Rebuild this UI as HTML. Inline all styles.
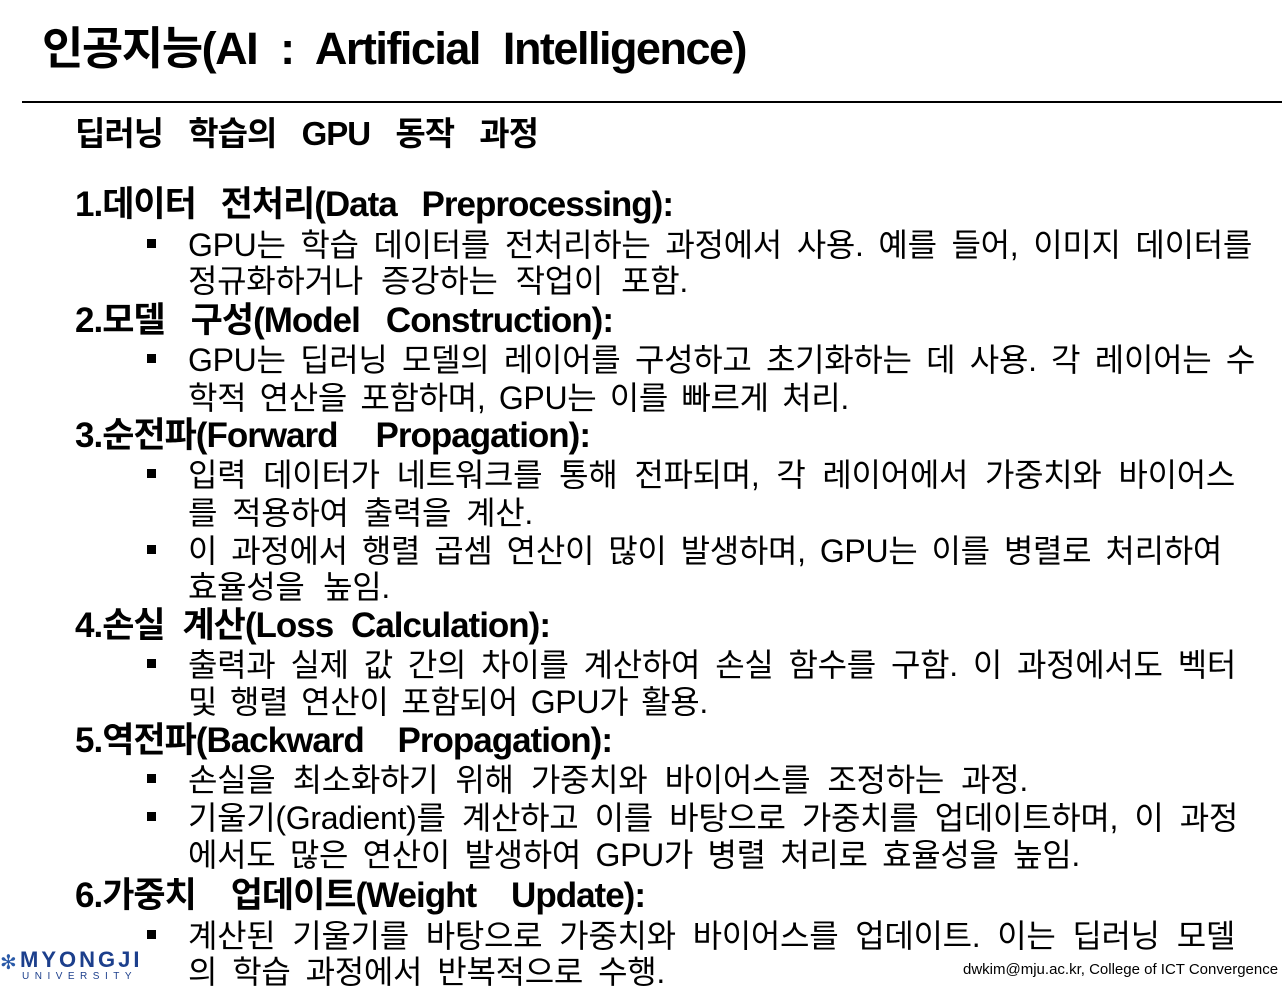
<!DOCTYPE html>
<html><head><meta charset="utf-8"><style>
body{margin:0;width:1282px;height:984px;background:#fff;position:relative;overflow:hidden;font-family:"Liberation Sans","Noto Sans CJK KR",sans-serif;color:#000}
.l{position:absolute;white-space:nowrap;text-align:justify;text-align-last:justify;line-height:36px;height:36px;overflow:visible}
.b{font-size:32px;left:188px;letter-spacing:-0.3px;margin-top:2px}
.h{font-size:35px;font-weight:bold;left:75px;letter-spacing:-1px}
.sq{position:absolute;left:147px;width:9px;height:9px;background:#000}
</style></head><body>
<div class="l" style="left:42px;top:24px;height:50px;line-height:50px;font-size:45px;font-weight:bold;width:704px;letter-spacing:-1.5px">인공지능(AI : Artificial Intelligence)</div>
<div style="position:absolute;left:22px;top:101px;width:1260px;height:2px;background:#000"></div>
<div class="l h" style="top:116px;width:463px;font-size:33px">딥러닝 학습의 GPU 동작 과정</div>

<div class="l h" style="top:187px;width:598px">1.데이터 전처리(Data Preprocessing):</div>
<div class="sq" style="top:239px"></div>
<div class="l b" style="top:225px;width:1064px">GPU는 학습 데이터를 전처리하는 과정에서 사용. 예를 들어, 이미지 데이터를</div>
<div class="l b" style="top:261px;width:500px">정규화하거나 증강하는 작업이 포함.</div>

<div class="l h" style="top:303px;width:538px">2.모델 구성(Model Construction):</div>
<div class="sq" style="top:354px"></div>
<div class="l b" style="top:340px;width:1067px">GPU는 딥러닝 모델의 레이어를 구성하고 초기화하는 데 사용. 각 레이어는 수</div>
<div class="l b" style="top:378px;width:661px">학적 연산을 포함하며, GPU는 이를 빠르게 처리.</div>

<div class="l h" style="top:418px;width:515px">3.순전파(Forward Propagation):</div>
<div class="sq" style="top:469px"></div>
<div class="l b" style="top:455px;width:1047px">입력 데이터가 네트워크를 통해 전파되며, 각 레이어에서 가중치와 바이어스</div>
<div class="l b" style="top:493px;width:345px">를 적용하여 출력을 계산.</div>
<div class="sq" style="top:545px"></div>
<div class="l b" style="top:531px;width:1034px">이 과정에서 행렬 곱셈 연산이 많이 발생하며, GPU는 이를 병렬로 처리하여</div>
<div class="l b" style="top:567px;width:202px">효율성을 높임.</div>

<div class="l h" style="top:608px;width:475px">4.손실 계산(Loss Calculation):</div>
<div class="sq" style="top:659px"></div>
<div class="l b" style="top:645px;width:1048px">출력과 실제 값 간의 차이를 계산하여 손실 함수를 구함. 이 과정에서도 벡터</div>
<div class="l b" style="top:682px;width:520px">및 행렬 연산이 포함되어 GPU가 활용.</div>

<div class="l h" style="top:723px;width:537px">5.역전파(Backward Propagation):</div>
<div class="sq" style="top:774px"></div>
<div class="l b" style="top:760px;width:840px">손실을 최소화하기 위해 가중치와 바이어스를 조정하는 과정.</div>
<div class="sq" style="top:812px"></div>
<div class="l b" style="top:798px;width:1050px">기울기(Gradient)를 계산하고 이를 바탕으로 가중치를 업데이트하며, 이 과정</div>
<div class="l b" style="top:835px;width:892px">에서도 많은 연산이 발생하여 GPU가 병렬 처리로 효율성을 높임.</div>

<div class="l h" style="top:878px;width:570px">6.가중치 업데이트(Weight Update):</div>
<div class="sq" style="top:930px"></div>
<div class="l b" style="top:916px;width:1047px">계산된 기울기를 바탕으로 가중치와 바이어스를 업데이트. 이는 딥러닝 모델</div>
<div class="l b" style="top:952px;width:477px">의 학습 과정에서 반복적으로 수행.</div>

<div style="position:absolute;left:0;top:950px;width:14px;height:26px;color:#2a5aa8;font-size:20px;line-height:26px">✻</div>
<div style="position:absolute;left:20px;top:948px;font-size:22px;font-weight:bold;color:#1c3f8c;letter-spacing:3px;line-height:24px">MYONGJI</div>
<div style="position:absolute;left:22px;top:971px;font-size:10px;color:#1c3f8c;letter-spacing:5.5px;line-height:12px">UNIVERSITY</div>
<div style="position:absolute;left:963px;top:960px;font-size:15px;line-height:20px;white-space:nowrap">dwkim@mju.ac.kr, College of ICT Convergence</div>
</body></html>
